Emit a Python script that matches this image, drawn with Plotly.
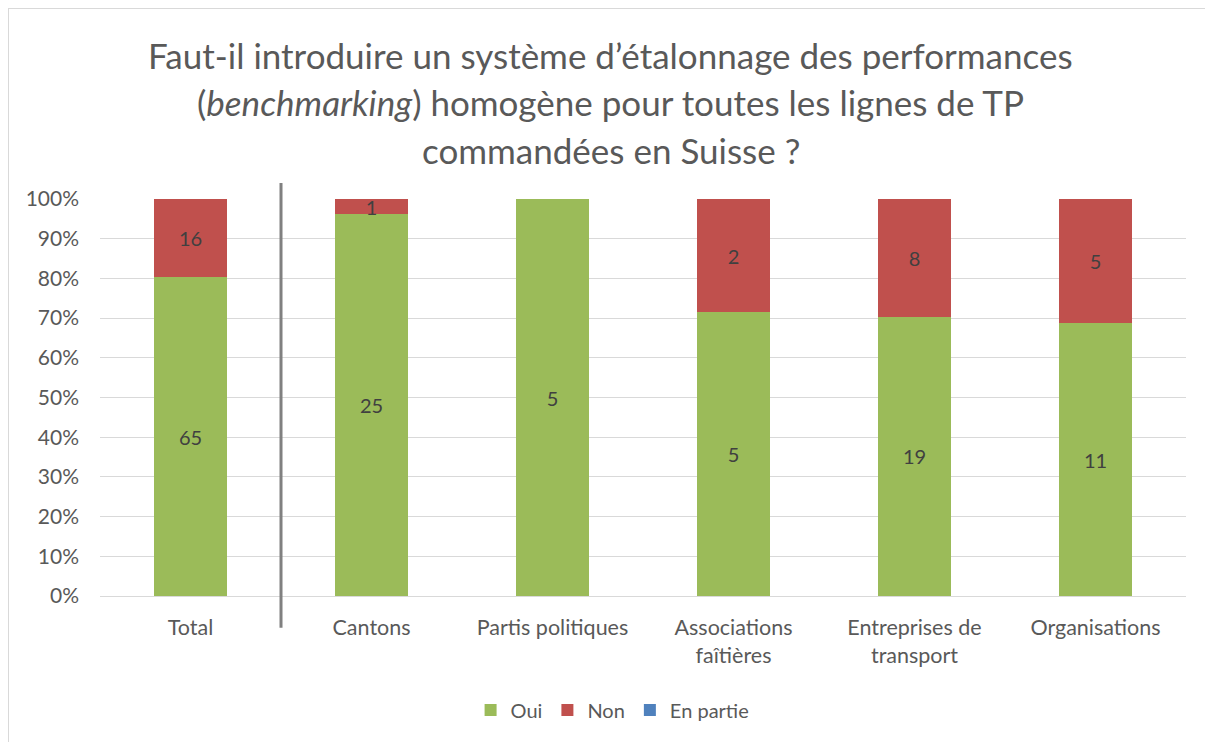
import plotly.graph_objects as go

categories = ["Total", "Cantons", "Partis politiques", "Associations<br>faîtières",
              "Entreprises de<br>transport", "Organisations"]
oui = [65, 25, 5, 5, 19, 11]
non = [16, 1, 0, 2, 8, 5]
en_partie = [0, 0, 0, 0, 0, 0]
y_ticks = [0, 10, 20, 30, 40, 50, 60, 70, 80, 90, 100]

title_lines = [
    "Faut-il introduire un système d’étalonnage des performances",
    "(<i>benchmarking</i>) homogène pour toutes les lignes de TP",
    "commandées en Suisse ?",
]

FONT = "Lato"
GREY = "#595959"


def labels(vals):
    return [str(v) if v else "" for v in vals]


fig = go.Figure()
for name, vals, color in [("Oui", oui, "#9BBB59"), ("Non", non, "#C0504D"),
                          ("En partie", en_partie, "#4F81BD")]:
    fig.add_trace(go.Bar(
        x=categories, y=vals, name=name, marker_color=color,
        marker_line_width=0,
        text=labels(vals), textposition="inside", insidetextanchor="middle",
        textangle=0, constraintext="none",
        textfont=dict(family=FONT, size=20, color="#404040"),
    ))

# page body has an 8px margin, so the figure is shrunk by that much
fig.update_layout(
    barmode="stack", barnorm="percent", bargap=0.6,
    width=1205, height=734,
    margin=dict(l=92, r=27, t=191, b=146),
    paper_bgcolor="white", plot_bgcolor="white",
    font=dict(family=FONT, size=20, color=GREY),
    showlegend=True,
    legend=dict(orientation="h", x=0.472, xanchor="center", y=-0.287, yanchor="middle",
                font=dict(family=FONT, size=20, color=GREY), itemwidth=30,
                traceorder="normal"),
)
fig.update_xaxes(showgrid=False, showline=True, linecolor="#d9d9d9", linewidth=1,
                 tickfont=dict(family=FONT, size=21.5, color=GREY), ticks="",
                 ticklabelstandoff=12)
fig.update_yaxes(range=[0, 100], tickmode="array", tickvals=y_ticks,
                 ticktext=[f"{t}%" for t in y_ticks],
                 showgrid=True, gridcolor="#d9d9d9", gridwidth=1, zeroline=False,
                 tickfont=dict(family=FONT, size=21, color=GREY), ticklabelstandoff=20)

# vertical separator between Total and the groups
fig.add_shape(type="line", xref="x", yref="paper", x0=0.5, x1=0.5, y0=-0.08, y1=1.04,
              line=dict(color="#808080", width=3))

# chart frame
fig.add_shape(type="rect", xref="paper", yref="paper", x0=-0.0847, x1=1.2,
              y0=-0.5, y1=1.481, line=dict(color="#d9d9d9", width=2),
              fillcolor="rgba(0,0,0,0)", layer="below")

for i, (line, ypos) in enumerate(zip(title_lines, [1.363, 1.244, 1.123])):
    fig.add_annotation(text=line, xref="paper", yref="paper", x=0.4705, xanchor="center",
                       y=ypos, yanchor="middle", showarrow=False,
                       font=dict(family=FONT, size=35, color=GREY))

fig.write_html("out.html")
